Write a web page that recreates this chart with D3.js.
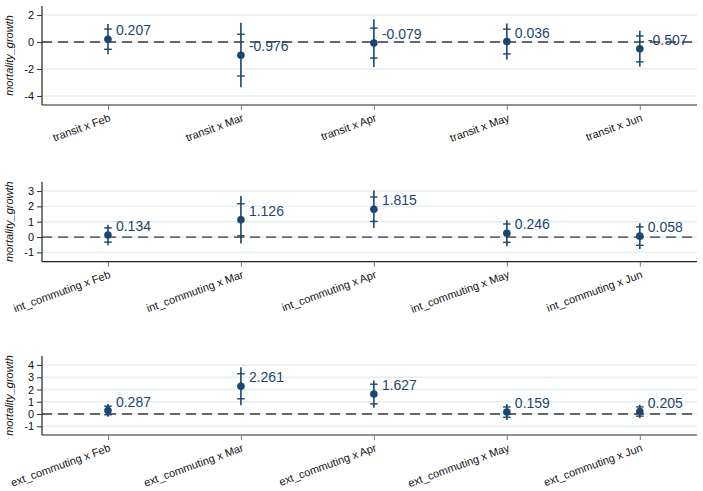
<!DOCTYPE html>
<html>
<head>
<meta charset="utf-8">
<script src="https://cdn.jsdelivr.net/npm/d3@7"></script>
<style>
  html, body { margin: 0; padding: 0; background: #fff; }
  svg { display: block; font-family: "Liberation Sans", Arial, sans-serif; }
</style>
</head>
<body>
<svg id="chart" width="703" height="491"></svg>
<script>
// Interaction terms: commuting measure x month
const months = ["Feb", "Mar", "Apr", "May", "Jun"];
const measures = ["transit", "int_commuting", "ext_commuting"];

// transit
const transitEst  = [0.207, -0.976, -0.079, 0.036, -0.507];
const transitLo90 = [-0.54, -2.52, -1.19, -0.88, -1.47];
const transitHi90 = [0.96, 0.57, 1.03, 0.95, 0.45];
const transitLo99 = [-0.91, -3.36, -1.85, -1.30, -1.84];
const transitHi99 = [1.33, 1.43, 1.69, 1.37, 0.83];

// int_commuting
const intEst  = [0.134, 1.126, 1.815, 0.246, 0.058];
const intLo90 = [-0.33, 0.08, 1.02, -0.35, -0.54];
const intHi90 = [0.60, 2.17, 2.61, 0.85, 0.66];
const intLo99 = [-0.53, -0.42, 0.59, -0.60, -0.78];
const intHi99 = [0.80, 2.67, 3.04, 1.09, 0.90];

// ext_commuting
const extEst  = [0.287, 2.261, 1.627, 0.159, 0.205];
const extLo90 = [-0.06, 1.24, 0.83, -0.26, -0.17];
const extHi90 = [0.64, 3.28, 2.43, 0.58, 0.58];
const extLo99 = [-0.23, 0.71, 0.52, -0.49, -0.35];
const extHi99 = [0.81, 3.81, 2.73, 0.81, 0.76];

// y-axis ticks per panel
const transitTicks = [-4, -2, 0, 2];
const intTicks = [-1, 0, 1, 2, 3];
const extTicks = [-1, 0, 1, 2, 3, 4];

const yTitle = "mortality_growth";
const navy = "#1a476f";

// plain hyphen-minus for negative numbers
const locale = d3.formatLocale({ decimal: ".", thousands: ",", grouping: [3], currency: ["", ""], minus: "-" });
const fmtInt = locale.format("d");
const fmtVal = locale.format(".3f");

const panels = [
  { name: measures[0], est: transitEst, lo90: transitLo90, hi90: transitHi90, lo99: transitLo99, hi99: transitHi99,
    ticks: transitTicks, domain: [-4.67, 2.67], top: 6, bottom: 105 },
  { name: measures[1], est: intEst, lo90: intLo90, hi90: intHi90, lo99: intLo99, hi99: intHi99,
    ticks: intTicks, domain: [-1.61, 3.61], top: 181.7, bottom: 261.7 },
  { name: measures[2], est: extEst, lo90: extLo90, hi90: extHi90, lo99: extLo99, hi99: extHi99,
    ticks: extTicks, domain: [-1.71, 4.73], top: 356, bottom: 435 }
];

const svg = d3.select("#chart");
const left = 42, right = 697;

const x = d3.scaleLinear().domain([0.504, 5.43]).range([left, right]);

panels.forEach(p => {
  const y = d3.scaleLinear().domain(p.domain).range([p.bottom, p.top]);
  const g = svg.append("g");

  // gridlines
  g.selectAll("line.grid").data(p.ticks).join("line")
    .attr("x1", left).attr("x2", right)
    .attr("y1", d => y(d)).attr("y2", d => y(d))
    .attr("stroke", "#e4edf0").attr("stroke-width", 1.4);

  // zero reference line
  g.append("line")
    .attr("x1", left).attr("x2", right)
    .attr("y1", y(0)).attr("y2", y(0))
    .attr("stroke", "#3a3a3a").attr("stroke-width", 1.3)
    .attr("stroke-dasharray", "10,6");

  // y axis
  const yAxis = d3.axisLeft(y).tickValues(p.ticks).tickSize(5).tickPadding(3).tickFormat(fmtInt);
  const ya = g.append("g").attr("transform", `translate(${left},0)`).call(yAxis);
  ya.select(".domain").attr("d", `M0,${p.top}V${p.bottom}`).attr("stroke", "#222").attr("stroke-width", 1.2);
  ya.selectAll(".tick line").attr("stroke", "#333");
  ya.selectAll(".tick text").attr("font-size", 11).attr("fill", "#111")
    .attr("font-family", "'Liberation Sans', Arial, sans-serif");

  // x axis
  const labels = months.map(m => `${p.name} x ${m}`);
  const xAxis = d3.axisBottom(x).tickValues([1, 2, 3, 4, 5]).tickSize(5).tickFormat((d, i) => labels[i]);
  const xa = g.append("g").attr("transform", `translate(0,${p.bottom})`).call(xAxis);
  xa.select(".domain").attr("d", `M${left},0H${right}`).attr("stroke", "#222").attr("stroke-width", 1.2);
  xa.selectAll(".tick line").attr("stroke", "#777");
  xa.selectAll(".tick text")
    .attr("font-size", 11).attr("fill", "#111")
    .attr("font-family", "'Liberation Sans', Arial, sans-serif")
    .attr("text-anchor", "end")
    .attr("y", 0).attr("dy", "0.75em")
    .attr("transform", "translate(0,8) rotate(-20)");

  // y title
  g.append("text")
    .attr("transform", `translate(13,${(p.top + p.bottom) / 2}) rotate(-90)`)
    .attr("text-anchor", "middle")
    .attr("font-size", 11).attr("font-style", "italic").attr("fill", "#111")
    .text(yTitle);

  const idx = d3.range(months.length);

  // 99% interval spikes
  g.selectAll("line.ci99").data(idx).join("line")
    .attr("x1", i => x(i + 1)).attr("x2", i => x(i + 1))
    .attr("y1", i => y(p.lo99[i])).attr("y2", i => y(p.hi99[i]))
    .attr("stroke", navy).attr("stroke-width", 1.6);

  // 90% interval caps
  const caps = [];
  idx.forEach(i => { caps.push([i, p.lo90[i]]); caps.push([i, p.hi90[i]]); });
  g.selectAll("line.cap").data(caps).join("line")
    .attr("x1", d => x(d[0] + 1) - 3.8).attr("x2", d => x(d[0] + 1) + 3.8)
    .attr("y1", d => y(d[1])).attr("y2", d => y(d[1]))
    .attr("stroke", navy).attr("stroke-width", 1.4);

  // point estimates
  g.selectAll("circle.pt").data(idx).join("circle")
    .attr("cx", i => x(i + 1)).attr("cy", i => y(p.est[i]))
    .attr("r", 3.8).attr("fill", navy);

  // value labels
  g.selectAll("text.val").data(idx).join("text")
    .attr("x", i => x(i + 1) + 8).attr("y", i => y(p.est[i]) - 4)
    .attr("font-size", 14).attr("fill", navy)
    .text(i => fmtVal(p.est[i]));
});
</script>
</body>
</html>
